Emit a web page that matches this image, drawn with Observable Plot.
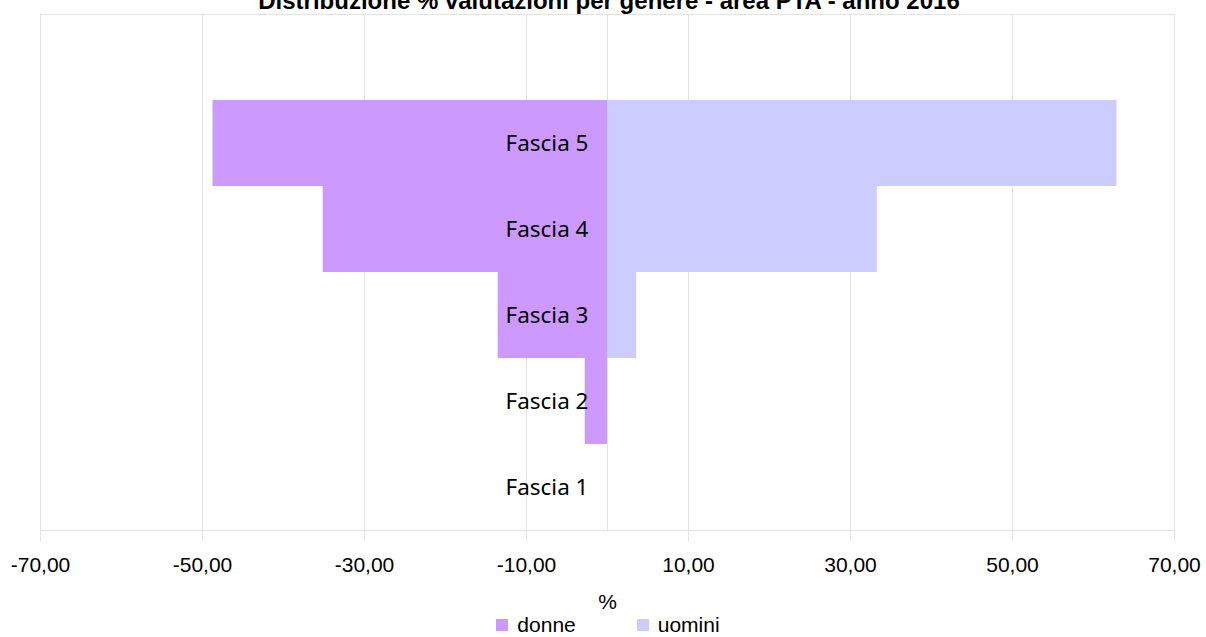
<!DOCTYPE html>
<html>
<head>
<meta charset="utf-8">
<script src="https://cdn.jsdelivr.net/npm/d3@7"></script>
<script src="https://cdn.jsdelivr.net/npm/@observablehq/plot@0.6"></script>
<style>
  html, body { margin: 0; padding: 0; background: #fff; overflow: hidden; }
  #wrap { position: relative; width: 1206px; height: 637px; overflow: hidden; }
  #title { position: absolute; left: 0; width: 1218px; top: -11px; text-align: center;
           font: bold 24px "Liberation Sans", Arial, sans-serif; line-height: 24px; color: #000; white-space: nowrap; }
  #chart { position: absolute; left: 0; top: 0; }
  #legend { position: absolute; left: 5px; width: 1206px; top: 613px; display: flex; justify-content: center;
            font: 21px "Liberation Sans", Arial, sans-serif; line-height: 24px; color: #000; }
  .item { display: flex; align-items: center; }
  .sw { width: 12px; height: 12px; display: inline-block; margin-right: 9px; }
</style>
</head>
<body>
<div id="wrap">
  <div id="title">Distribuzione % valutazioni per genere - area PTA - anno 2016</div>
  <div id="chart"></div>
  <div id="legend"></div>
</div>
<script>
const categories = ["Fascia 1", "Fascia 2", "Fascia 3", "Fascia 4", "Fascia 5"];
const donne = [0, -2.75, -13.5, -35.1, -48.7];
const uomini = [0, 0, 3.6, 33.3, 62.9];
const series = ["donne", "uomini"];
const colors = ["#CC99FF", "#CCCCFF"];
const xTicks = [-70, -50, -30, -10, 10, 30, 50, 70];

const rows = [];
categories.forEach((c, i) => {
  rows.push({cat: c, serie: "donne", value: donne[i]});
  rows.push({cat: c, serie: "uomini", value: uomini[i]});
});

const yDomain = [" ", ...categories.slice().reverse()];
const fmt = d => d.toFixed(2).replace(".", ",");

const plot = Plot.plot({
  width: 1206,
  height: 612,
  marginLeft: 40,
  marginRight: 32,
  marginTop: 14,
  marginBottom: 82,
  style: {background: "transparent"},
  x: {domain: [-70, 70]},
  y: {domain: yDomain, padding: 0, axis: null},
  color: {domain: series, range: colors},
  marks: [
    Plot.gridX([...xTicks, 0], {stroke: "#e3e3e3", strokeOpacity: 1}),
    Plot.frame({stroke: "#e3e3e3"}),
    Plot.barX(rows, {y: "cat", x: "value", fill: "serie", inset: 0}),
    Plot.axisX({
      ticks: xTicks, tickFormat: fmt, tickSize: 11, tickPadding: 16,
      stroke: "#e3e3e3", fontSize: 21, fontFamily: "Liberation Sans, Arial, sans-serif",
      fill: "#000", label: null
    }),
    Plot.text(["%"], {frameAnchor: "bottom", dy: 78, text: d => d, fontSize: 21,
      fontFamily: "Liberation Sans, Arial, sans-serif", fill: "#000"}),
    Plot.text(categories, {x: () => 0, y: d => d, text: d => d, textAnchor: "end", dx: -19,
      fontSize: 22.5, fontFamily: "Noto Sans, sans-serif", fill: "#000"})
  ]
});
plot.style.overflow = "visible";
document.getElementById("chart").appendChild(plot);

const legend = document.getElementById("legend");
series.forEach((s, i) => {
  const it = document.createElement("div");
  it.className = "item";
  it.style.marginRight = i === 0 ? "61px" : "0";
  const sw = document.createElement("span");
  sw.className = "sw";
  sw.style.background = colors[i];
  it.appendChild(sw);
  it.appendChild(document.createTextNode(s));
  legend.appendChild(it);
});
</script>
</body>
</html>
